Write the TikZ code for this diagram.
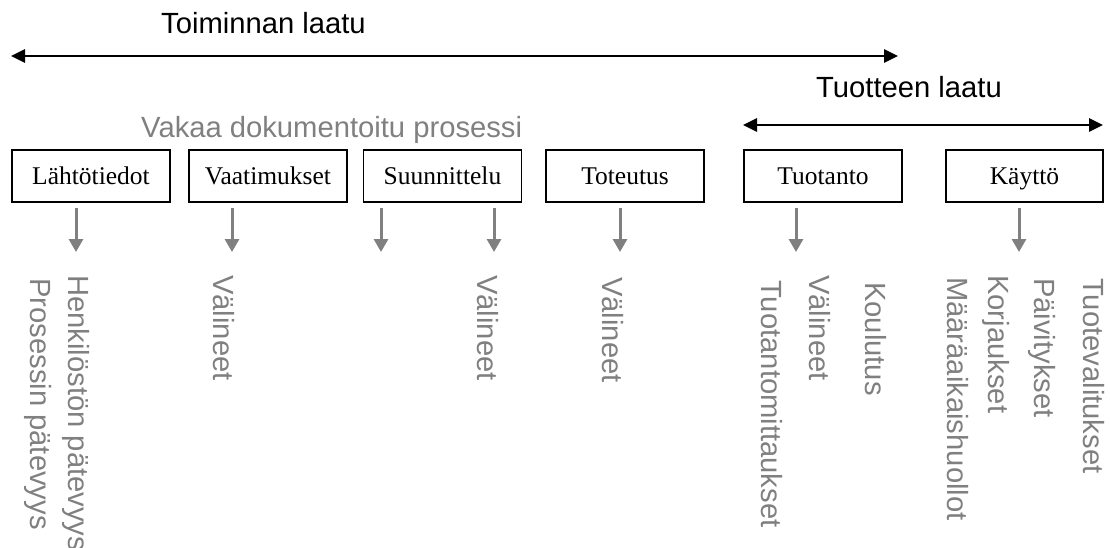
\documentclass[tikz,border=0pt]{standalone}
\usepackage{fontspec}
\setmainfont{Liberation Serif}
\newfontfamily\arialfont{Liberation Sans}
\usetikzlibrary{arrows.meta}
\definecolor{softgray}{HTML}{808080}
\begin{document}
\begin{tikzpicture}[x=1pt,y=-1pt,
  phase/.style={draw=black,line width=1.5pt,minimum width=158pt,minimum height=52pt,
    inner sep=0pt,text height=20pt,text depth=2pt,font=\fontsize{25.5}{30}\selectfont},
  heading/.style={anchor=base west,inner sep=0pt,font=\arialfont\fontsize{29.2}{35}\selectfont},
  note/.style={heading,text=softgray,rotate=-90},
  span/.style={line width=2.6pt,{Triangle[length=14pt,width=13pt]}-{Triangle[length=14pt,width=13pt]}},
  feed/.style={draw=softgray,line width=3pt,shorten <=5pt,-{Triangle[length=13pt,width=14pt]}}]
\useasboundingbox (0,0) rectangle (1110,548);

% quality spans
\node[heading] (toim) at (161,34) {Toiminnan laatu};
\coordinate (toimL) at (11,56);
\coordinate (toimR) at (898,56);
\draw[span] (toimL) -- (toimR);

\node[heading] (tuot) at (816,98) {Tuotteen laatu};
\coordinate (tuotL) at (743,125);
\coordinate (tuotR) at (1103,125);
\draw[span] (tuotL) -- (tuotR);

\node[heading,text=softgray] (vakaa) at (141,138) {Vakaa dokumentoitu prosessi};

% life-cycle phases
\node[phase] (p1) at (91,176) {Lähtötiedot};
\node[phase] (p2) at (268,176) {Vaatimukset};
\node[phase] (p3) at (442.5,176) {Suunnittelu};
\node[phase] (p4) at (625,176) {Toteutus};
\node[phase] (p5) at (823,176) {Tuotanto};
\node[phase,minimum width=157pt] (p6) at (1024.5,176) {Käyttö};

% arrow end points below the phases
\coordinate (e1) at (76,252);
\coordinate (e2) at (232,252);
\coordinate (e3) at (381,252);
\coordinate (e4) at (494,252);
\coordinate (e5) at (620,252);
\coordinate (e6) at (796,252);
\coordinate (e7) at (1019,252);
\draw[feed] (e1 |- p1.south) -- (e1);
\draw[feed] (e2 |- p2.south) -- (e2);
\draw[feed] (e3 |- p3.south) -- (e3);
\draw[feed] (e4 |- p3.south) -- (e4);
\draw[feed] (e5 |- p4.south) -- (e5);
\draw[feed] (e6 |- p5.south) -- (e6);
\draw[feed] (e7 |- p6.south) -- (e7);

% vertical notes
\node[note] (n1) at (68.5,275) {Henkilöstön pätevyys};
\node[note] (n2) at (30.5,278) {Prosessin pätevyys};
\node[note] (n3) at (213,275) {Välineet};
\node[note] (n4) at (477,275) {Välineet};
\node[note] (n5) at (602,277) {Välineet};
\node[note] (n6) at (761,280) {Tuotantomittaukset};
\node[note] (n7) at (809,275) {Välineet};
\node[note] (n8) at (865,282) {Koulutus};
\node[note] (n9) at (947,277) {Määräaikaishuollot};
\node[note] (n10) at (988,275) {Korjaukset};
\node[note] (n11) at (1034,278) {Päivitykset};
\node[note] (n12) at (1083,278) {Tuotevalitukset};
\end{tikzpicture}
\end{document}
